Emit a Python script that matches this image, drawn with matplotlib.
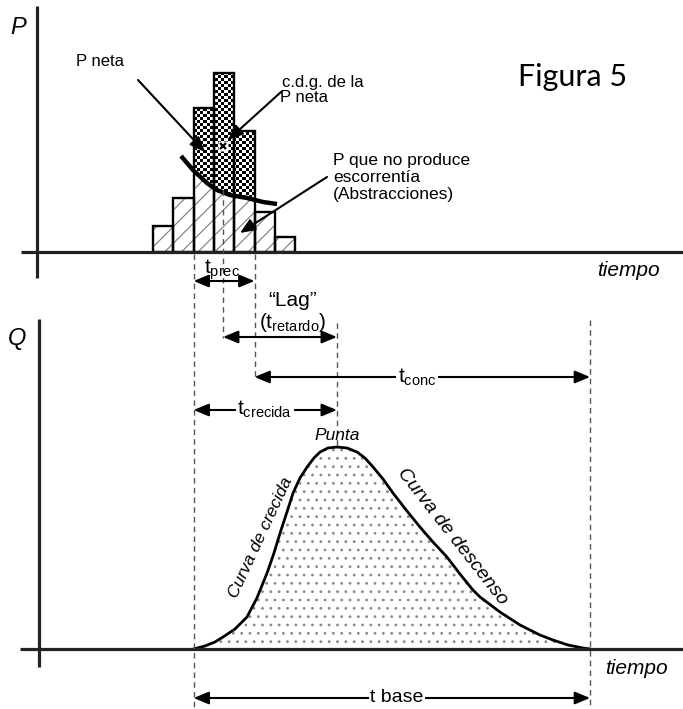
import numpy as np
import matplotlib
matplotlib.use("Agg")
import matplotlib.pyplot as plt
from matplotlib.patches import Rectangle
from matplotlib.transforms import blended_transform_factory as blend

plt.rcParams['font.family'] = ['Liberation Sans', 'DejaVu Sans']
plt.rcParams['mathtext.fontset'] = 'custom'
plt.rcParams['mathtext.rm'] = 'Liberation Sans'
plt.rcParams['mathtext.it'] = 'Liberation Sans:italic'
plt.rcParams['hatch.linewidth'] = 0.8

# ---------------- data ----------------
interval = [0, 1, 2, 3, 4, 5, 6]
p_total = [26, 54, 144, 179, 121, 40, 15]
net_intervals = [2, 3, 4]
abs_t = [1.38, 1.97, 2.66, 3.15, 3.79, 4.63, 5.42, 6.11]
abs_p = [96, 82, 69, 62, 57, 54, 50, 48]
cdg_t, cdg_p = 3.45, 106

hydro_t = [2.0, 2.56, 3.05, 3.45, 4.04, 4.63, 5.12, 5.62, 5.96, 6.26, 6.60, 6.90,
           7.24, 7.59, 7.93, 8.23, 8.62, 9.06, 9.56, 10.05, 10.44, 10.84, 11.33,
           11.82, 12.51, 13.15, 13.79, 14.48, 15.12, 15.76, 16.11, 17.09, 18.08,
           19.06, 19.70, 20.44, 21.18, 21.53]
hydro_q = [0, 3, 7, 12, 20, 32, 51, 76, 96, 116, 137, 156, 171, 182, 191, 197,
           201, 202, 201, 197, 191, 182, 170, 156, 138, 122, 107, 92, 75, 59, 52,
           37, 24, 14, 9, 4, 1, 0]

# ---------------- layout ----------------
W, H = 683, 709
fig = plt.figure(figsize=(W / 100, H / 100), dpi=100)
X0, PPT = 153, 20.3
xlim = (-X0 / PPT, (W - X0) / PPT)
P_BASE, Q_BASE, Q_TOP = 252, 649, 300

ax_p = fig.add_axes([0, (H - P_BASE) / H, 1, P_BASE / H])
ax_q = fig.add_axes([0, (H - Q_BASE) / H, 1, (Q_BASE - Q_TOP) / H])
ax = fig.add_axes([0, 0, 1, 1])
for a in (ax_p, ax_q, ax):
    a.set_axis_off()

# ---------------- hyetograph ----------------
rows, cols = 60, 20
checker = (np.add.outer(np.arange(rows), np.arange(cols)) % 2).astype(float)
for t, p in zip(interval, p_total):
    if t in net_intervals:
        rect = Rectangle((t, 0), 1, p, transform=ax_p.transData)
        im = ax_p.imshow(checker, extent=(net_intervals[0], net_intervals[-1] + 1, 0, 180),
                         origin='lower', interpolation='nearest', cmap='gray',
                         aspect='auto', zorder=1)
        im.set_clip_path(rect)
        fb = ax_p.fill_between(abs_t, abs_p, 0, facecolor='white', hatch='//',
                               edgecolor='#7a7a7a', linewidth=0, zorder=2)
        fb.set_clip_path(Rectangle((t, 0), 1, p, transform=ax_p.transData))
    else:
        ax_p.bar(t, p, width=1, align='edge', facecolor='white', hatch='//',
                 edgecolor='#7a7a7a', linewidth=0, zorder=2)
ax_p.bar(interval, p_total, width=1, align='edge', fill=False,
         edgecolor='black', linewidth=1.7, zorder=4)
ax_p.plot(abs_t, abs_p, color='black', lw=3.2, solid_capstyle='butt', zorder=5)
ax_p.plot(cdg_t, cdg_p, marker='s', ms=7.5, mfc='white', mec='none', zorder=6)
ax_p.plot(cdg_t, cdg_p, marker='x', ms=5, mec='black', mew=1.6, zorder=7)
ax_p.set_xlim(xlim)
ax_p.set_ylim(0, P_BASE)

# ---------------- hydrograph ----------------
ax_q.fill_between(hydro_t, hydro_q, 0, facecolor='white', hatch='..',
                  edgecolor='#8a8a8a', linewidth=0, zorder=1)
ax_q.plot(hydro_t, hydro_q, color='black', lw=2.0, zorder=3)
ax_q.set_xlim(xlim)
ax_q.set_ylim(0, Q_BASE - Q_TOP)

# ---------------- overlay (pixel coords) ----------------
ax.set_xlim(0, W)
ax.set_ylim(H, 0)
k = dict(color='#222222', lw=2.3, solid_capstyle='butt')
ax.plot([37, 37], [6, 278], **k)
ax.plot([21, W], [P_BASE, P_BASE], **k)
ax.plot([39, 39], [319, 667], **k)
ax.plot([20, W], [Q_BASE, Q_BASE], **k)

tr = blend(ax_q.transData, ax.transData)
t_start = hydro_t[0]
t_peak = hydro_t[int(np.argmax(hydro_q))]
t_end = hydro_t[-1]
t_net_end = net_intervals[-1] + 1

dk = dict(color='#555555', lw=1.0, linestyle=(0, (4, 3)), transform=tr)
ax.plot([t_start, t_start], [P_BASE + 2, H], **dk)
ax.plot([cdg_t, cdg_t], [190, 338], **dk)
ax.plot([t_net_end, t_net_end], [P_BASE + 2, 380], **dk)
ax.plot([t_peak, t_peak], [323, 446], **dk)
ax.plot([t_end, t_end], [320, H], **dk)

ap2 = dict(arrowstyle='<|-|>,head_length=0.65,head_width=0.27', color='black',
           lw=1.5, shrinkA=0, shrinkB=0, mutation_scale=14)
def dim(t0, t1, y):
    ax.annotate('', xy=(t1, y), xytext=(t0, y), xycoords=tr, textcoords=tr,
                arrowprops=ap2)

dim(t_start, t_net_end, 281)
dim(cdg_t, t_peak, 337)
dim(t_net_end, t_end, 377)
dim(t_start, t_peak, 410)
dim(t_start, t_end, 698)

wb = dict(facecolor='white', edgecolor='none', pad=1.0)
ax.text(222, 270, r'$\mathrm{t}_{\mathrm{prec}}$', fontsize=15, ha='center', va='center')
ax.text(293, 301, '\u201cLag\u201d', fontsize=15, ha='center', va='center')
ax.text(293, 323, r'$(\mathrm{t}_{\mathrm{retardo}})$', fontsize=15, ha='center', va='center')
ax.text(417, 377, r'$\mathrm{t}_{\mathrm{conc}}$', fontsize=15, ha='center', va='center', bbox=wb)
ax.text(265, 409, r'$\mathrm{t}_{\mathrm{crecida}}$', fontsize=15, ha='center', va='center', bbox=wb)
ax.text(397, 697, 't base', fontsize=14, ha='center', va='center', bbox=wb)

ap1 = dict(arrowstyle='-|>,head_length=0.65,head_width=0.27', color='black',
           lw=1.5, shrinkA=0, shrinkB=0, mutation_scale=14)
ax.annotate('', xy=(205, 152), xytext=(138, 80), arrowprops=ap1)
ax.annotate('', xy=(228, 140), xytext=(281, 92), arrowprops=ap1)
ax.annotate('', xy=(240, 233), xytext=(327, 177), arrowprops=ap1)

ax.text(18, 27, 'P', fontsize=17, style='italic', ha='center', va='center')
ax.text(17, 338, 'Q', fontsize=17, style='italic', ha='center', va='center')
ax.text(100, 62, 'P neta', fontsize=12, ha='center', va='center')
ax.text(282, 82, 'c.d.g. de la', fontsize=12, ha='left', va='center')
ax.text(280, 97, 'P neta', fontsize=12, ha='left', va='center')
ax.text(333, 160, 'P que no produce', fontsize=12.5, ha='left', va='center')
ax.text(333, 178, 'escorrent\u00eda', fontsize=12.5, ha='left', va='center')
ax.text(333, 195, '(Abstracciones)', fontsize=12.5, ha='left', va='center')
ax.text(573, 77, 'Figura 5', fontsize=22, family=['Lato', 'DejaVu Sans'], ha='center', va='center')
ax.text(628, 270, 'tiempo', fontsize=15, style='italic', ha='center', va='center')
ax.text(636, 668, 'tiempo', fontsize=15, style='italic', ha='center', va='center')
ax.text(337, 436, 'Punta', fontsize=12.5, style='italic', ha='center', va='center')
ax.text(261, 538, 'Curva de crecida', fontsize=12.5, style='italic', rotation=65,
        rotation_mode='anchor', ha='center', va='center')
ax.text(452, 537, 'Curva de descenso', fontsize=14, style='italic', rotation=-52,
        rotation_mode='anchor', ha='center', va='center')

fig.savefig('out.png', dpi=100)
